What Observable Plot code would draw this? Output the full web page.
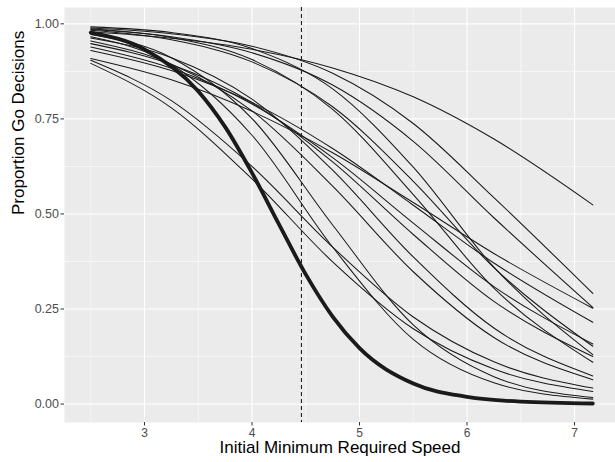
<!DOCTYPE html>
<html>
<head>
<meta charset="utf-8">
<script src="https://cdn.jsdelivr.net/npm/d3@7"></script>
<script src="https://cdn.jsdelivr.net/npm/@observablehq/plot@0.6"></script>
<style>
  html, body { margin: 0; padding: 0; background: #ffffff; }
  #chart { width: 615px; height: 462px; }
</style>
</head>
<body>
<div id="chart"></div>
<script>
// ---- values ----
const xTitle = "Initial Minimum Required Speed";
const yTitle = "Proportion Go Decisions";
const xTicks = [3, 4, 5, 6, 7];
const xTickLabels = ["3", "4", "5", "6", "7"];
const xMinor = [2.5, 3.5, 4.5, 5.5, 6.5];
const yTicks = [0, 0.25, 0.5, 0.75, 1];
const yTickLabels = ["0.00", "0.25", "0.50", "0.75", "1.00"];
const yMinor = [0.125, 0.375, 0.625, 0.875];
const cutoffSpeed = 4.46;

// speeds at which each thin curve was read
const speeds = [2.5, 3.25, 4.0, 4.75, 5.5, 6.25, 7.17];
// thin curves: proportion of go decisions at each speed
const curveA = [0.979, 0.962, 0.933, 0.884, 0.808, 0.697, 0.524];
const curveB = [0.989, 0.974, 0.941, 0.870, 0.738, 0.543, 0.291];
const curveC = [0.985, 0.966, 0.924, 0.839, 0.691, 0.490, 0.254];
const curveD = [0.909, 0.853, 0.770, 0.661, 0.530, 0.396, 0.252];
const curveE = [0.896, 0.779, 0.592, 0.374, 0.198, 0.092, 0.033];
const curveF = [0.904, 0.798, 0.625, 0.413, 0.229, 0.111, 0.042];
const curveG = [0.966, 0.893, 0.707, 0.413, 0.170, 0.056, 0.013];
const curveH = [0.972, 0.911, 0.751, 0.471, 0.208, 0.072, 0.017];
const curveI = [0.939, 0.883, 0.789, 0.648, 0.476, 0.309, 0.158];
const curveJ = [0.930, 0.877, 0.793, 0.672, 0.523, 0.371, 0.215];
const curveK = [0.992, 0.977, 0.935, 0.829, 0.623, 0.360, 0.130];
const curveL = [0.987, 0.964, 0.906, 0.775, 0.551, 0.305, 0.110];
const curveM = [0.983, 0.958, 0.900, 0.782, 0.586, 0.359, 0.152];
const curveN = [0.963, 0.911, 0.802, 0.615, 0.387, 0.200, 0.074];
const curveO = [0.955, 0.894, 0.771, 0.573, 0.348, 0.175, 0.064];
const curveP = [0.948, 0.893, 0.793, 0.637, 0.446, 0.270, 0.125];

// thick (overall) curve
const meanSpeeds = [2.5, 3.0, 3.5, 3.75, 4.0, 4.25, 4.5, 4.75, 5.0, 5.5, 6.0, 6.5, 7.17];
const meanCurve  = [0.977, 0.933, 0.823, 0.729, 0.608, 0.473, 0.341, 0.230, 0.147, 0.054, 0.019, 0.0063, 0.0015];

// ---- build tables for the library ----
const thinCurves = [curveA, curveB, curveC, curveD, curveE, curveF, curveG, curveH,
                    curveI, curveJ, curveK, curveL, curveM, curveN, curveO, curveP];
const thinRows = thinCurves.flatMap((vals, k) => vals.map((v, i) => ({speed: speeds[i], p: v, id: k})));
const meanRows = meanCurve.map((v, i) => ({speed: meanSpeeds[i], p: v}));

const panelFill = "#EBEBEB";
const chart = Plot.plot({
  width: 615,
  height: 462,
  marginLeft: 64,
  marginRight: 0,
  marginTop: 7,
  marginBottom: 40,
  style: {background: "#ffffff", fontFamily: "'Liberation Sans', Arial, Helvetica, sans-serif", color: "#4D4D4D"},
  x: {domain: [2.256, 7.381]},
  y: {domain: [-0.0485, 1.043]},
  marks: [
    Plot.frame({fill: panelFill, stroke: null}),
    Plot.gridX(xMinor, {stroke: "#ffffff", strokeOpacity: 1, strokeWidth: 0.55}),
    Plot.gridY(yMinor, {stroke: "#ffffff", strokeOpacity: 1, strokeWidth: 0.55}),
    Plot.gridX(xTicks, {stroke: "#ffffff", strokeOpacity: 1, strokeWidth: 1.1}),
    Plot.gridY(yTicks, {stroke: "#ffffff", strokeOpacity: 1, strokeWidth: 1.1}),
    Plot.line(thinRows, {x: "speed", y: "p", z: "id", curve: "monotone-x", stroke: "#1a1a1a", strokeWidth: 1.05}),
    Plot.line(meanRows, {x: "speed", y: "p", curve: "monotone-x", stroke: "#1a1a1a", strokeWidth: 3.8}),
    Plot.ruleX([cutoffSpeed], {stroke: "#222222", strokeWidth: 1.1, strokeDasharray: "4,3"}),
    Plot.axisX({ticks: xTicks, tickFormat: d => xTickLabels[xTicks.indexOf(d)], tickSize: 3.5, tickPadding: 2,
                fontSize: 12, label: null, stroke: "#333333", fill: "#4D4D4D"}),
    Plot.axisY({ticks: yTicks, tickFormat: d => yTickLabels[yTicks.indexOf(d)], tickSize: 3.5, tickPadding: 2,
                fontSize: 12.5, label: null, stroke: "#333333", fill: "#4D4D4D"}),
    Plot.text([xTitle], {frameAnchor: "bottom", dy: 30.5, fontSize: 17, fill: "#000000"}),
    Plot.text([yTitle], {frameAnchor: "left", dx: -46, rotate: -90, fontSize: 17, fill: "#000000"})
  ]
});
document.getElementById("chart").appendChild(chart);
</script>
</body>
</html>
